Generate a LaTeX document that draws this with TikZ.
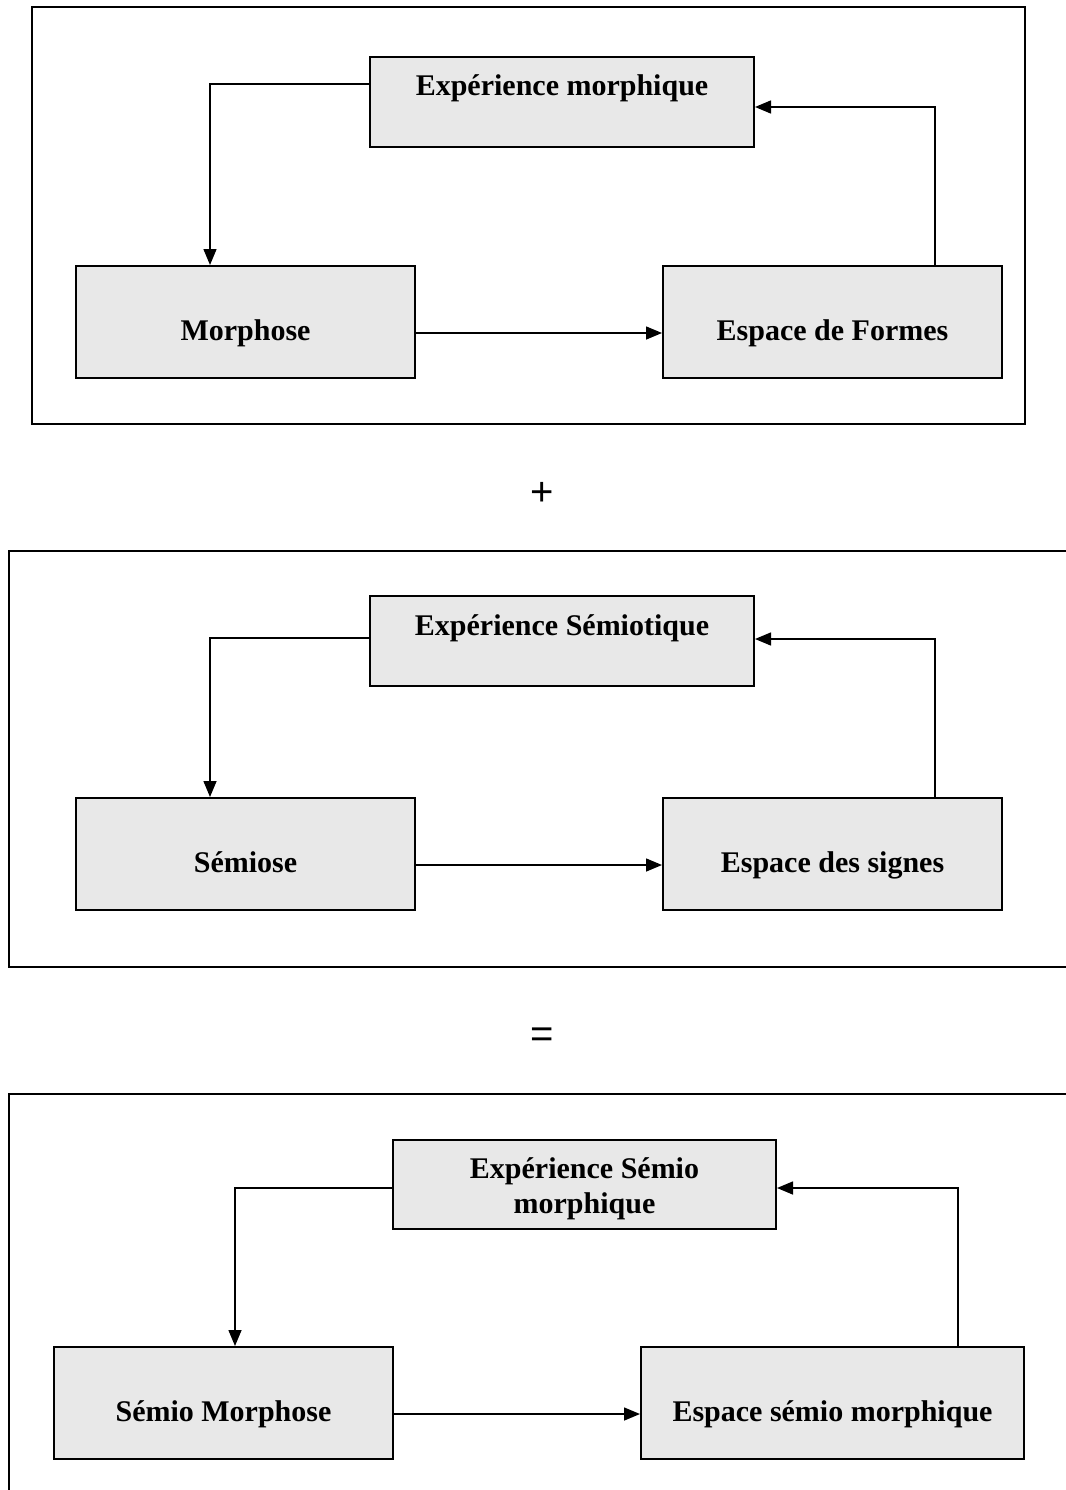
\documentclass[tikz,border=0pt]{standalone}
\usepackage{fontspec}
\setmainfont{Liberation Serif}
\newfontfamily\signfont{Liberation Sans}
\usetikzlibrary{arrows.meta,calc}
\definecolor{boxfill}{RGB}{232,232,232}
\begin{document}
\begin{tikzpicture}[x=1pt,y=-1pt,
  frame/.style={draw=black,line width=2.2pt,line join=miter},
  block/.style={draw=black,fill=boxfill,line width=2pt,inner sep=0pt,
    font=\bfseries\fontsize{30}{35}\selectfont},
  upper/.style={block,text height=4pt,text depth=16pt},
  lower/.style={block,text height=40pt,text depth=4pt},
  conn/.style={draw=black,line width=1.5pt,-{Triangle[length=16pt,width=13pt]}},
  sign/.style={inner sep=0pt,font=\signfont\fontsize{40}{40}\selectfont}
]
\useasboundingbox (0,0) rectangle (1065,1490);

% ---- first cycle: morphic experience ----
\draw[frame] (32,7) rectangle (1025,424);
\node[upper,minimum width=384pt,minimum height=90pt] (e1) at (562,102) {Expérience morphique};
\node[lower,minimum width=339pt,minimum height=112pt] (m1) at (245.5,322) {Morphose};
\node[lower,minimum width=339pt,minimum height=112pt] (f1) at (832.5,322) {Espace de Formes};
\draw[conn] ($(e1.north west)+(0,28)$) -| ($(m1.north west)+(135,0)$);
\draw[conn] ($(m1.east)+(0,11)$) -- ($(f1.west)+(0,11)$);
\draw[conn] ($(f1.north east)+(-68,0)$) |- ($(e1.north east)+(0,51)$);

\node[sign] (plus) at (542,494) {+};

% ---- second cycle: semiotic experience ----
\draw[frame] (1075,551) -- (9,551) -- (9,967) -- (1075,967);
\node[upper,minimum width=384pt,minimum height=90pt] (e2) at (562,641) {Expérience Sémiotique};
\node[lower,minimum width=339pt,minimum height=112pt] (m2) at (245.5,854) {Sémiose};
\node[lower,minimum width=339pt,minimum height=112pt] (f2) at (832.5,854) {Espace des signes};
\draw[conn] ($(e2.north west)+(0,43)$) -| ($(m2.north west)+(135,0)$);
\draw[conn] ($(m2.east)+(0,11)$) -- ($(f2.west)+(0,11)$);
\draw[conn] ($(f2.north east)+(-68,0)$) |- ($(e2.north east)+(0,44)$);

\node[sign] (equals) at (542,1038) {=};

% ---- combined cycle: semio-morphic experience ----
\draw[frame] (1075,1094) -- (9,1094) -- (9,1500);
\node[upper,minimum width=383pt,minimum height=89pt] (e3) at (584.5,1184.5)
  {\begin{tabular}[t]{@{}c@{}}Expérience Sémio\\morphique\end{tabular}};
\node[lower,minimum width=339pt,minimum height=112pt] (m3) at (223.5,1403) {Sémio Morphose};
\node[lower,minimum width=383pt,minimum height=112pt] (f3) at (832.5,1403) {Espace sémio morphique};
\draw[conn] ($(e3.north west)+(0,49)$) -| ($(m3.north west)+(182,0)$);
\draw[conn] ($(m3.east)+(0,11)$) -- ($(f3.west)+(0,11)$);
\draw[conn] ($(f3.north east)+(-67,0)$) |- ($(e3.north east)+(0,49)$);
\end{tikzpicture}
\end{document}
